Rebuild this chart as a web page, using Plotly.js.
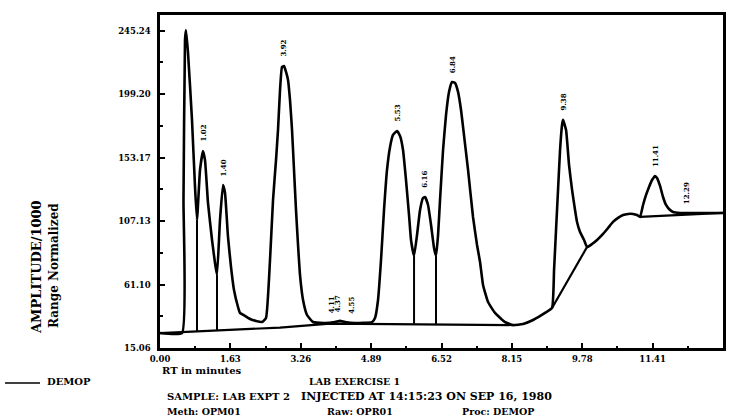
<!DOCTYPE html>
<html>
<head>
<meta charset="utf-8">
<script src="https://cdn.plot.ly/plotly-3.0.1.min.js"></script>
<style>html,body{margin:0;padding:0;background:#fff;}#chart{width:735px;height:418px;}</style>
</head>
<body>
<div id="chart"></div>
<script>
// Retention time (minutes) and normalized amplitude of the DEMOP trace
const rt = [
  0, 0.51, 0.544, 0.579, 0.602, 0.649, 0.741, 0.811, 0.857, 0.927,
  0.996, 1.042, 1.112, 1.205, 1.274, 1.320, 1.390, 1.459, 1.506, 1.575,
  1.645, 1.714, 1.807, 1.853, 1.969, 2.085, 2.224, 2.363, 2.455, 2.548,
  2.618, 2.687, 2.733, 2.780, 2.826, 2.872, 2.919, 2.965, 3.011, 3.058,
  3.104, 3.150, 3.197, 3.243, 3.313, 3.405, 3.544, 3.822, 4.054, 4.170,
  4.285, 4.517, 4.911, 4.980, 5.050, 5.119, 5.189, 5.258, 5.328, 5.397,
  5.490, 5.560, 5.629, 5.698, 5.768, 5.814, 5.884, 5.953, 6.023, 6.092,
  6.139, 6.208, 6.278, 6.347, 6.393, 6.440, 6.486, 6.556, 6.625, 6.694,
  6.764, 6.833, 6.903, 6.972, 7.019, 7.135, 7.250, 7.343, 7.413, 7.482,
  7.598, 7.760, 7.992, 8.177, 8.409, 8.640, 8.918, 9.080, 9.127, 9.173,
  9.219, 9.266, 9.312, 9.335, 9.405, 9.474, 9.544, 9.613, 9.659, 9.729,
  9.822, 9.891, 10.007, 10.123, 10.262, 10.378, 10.493, 10.609, 10.725, 10.841,
  10.957, 11.049, 11.119, 11.188, 11.258, 11.327, 11.397, 11.466, 11.512, 11.582,
  11.651, 11.721, 11.790, 11.883, 12.045, 12.509, 13.04
];
const amp = [
  25.9, 25.9, 122.4, 238.5, 245.7, 229.1, 180.5, 131.9, 107.9, 144.2,
  158.0, 151.4, 120.2, 93.4, 76.7, 68.0, 107.9, 133.3, 127.5, 95.6,
  73.8, 57.1, 44.8, 40.5, 38.3, 36.1, 34.7, 33.9, 36.8, 78.9,
  122.4, 151.4, 173.2, 202.2, 218.9, 219.6, 215.3, 209.5, 195.0, 173.2,
  144.2, 115.2, 89.8, 68.0, 49.9, 39.0, 33.9, 33.2, 33.9, 34.7,
  33.9, 33.2, 33.9, 36.8, 49.9, 78.9, 115.2, 144.2, 160.9, 169.6,
  172.5, 168.8, 158.7, 136.9, 111.5, 93.4, 81.8, 97.0, 115.2, 123.9,
  124.6, 118.8, 104.3, 87.6, 81.8, 97.0, 122.4, 158.7, 184.1, 200.8,
  208.0, 207.3, 200.8, 187.7, 175.4, 144.2, 110.1, 89.8, 77.4, 60.8,
  48.4, 40.5, 33.9, 31.7, 32.5, 35.4, 40.5, 44.1, 71.6, 100.7,
  129.7, 158.7, 176.8, 180.5, 173.2, 147.8, 129.7, 115.2, 106.5, 99.2,
  93.4, 88.3, 90.5, 93.4, 97.8, 102.1, 106.5, 109.4, 111.5, 112.3,
  112.3, 111.5, 110.1, 118.8, 126.1, 131.9, 136.9, 139.8, 138.4, 132.6,
  124.6, 118.8, 115.9, 113.7, 113.0, 113.0, 113.0
];

// Integration baselines (null separates the segments)
const baseRt  = [0, 2.78, 3.938, 7.413, 8.177, null, 9.080, 9.891, null, 11.119, 13.04];
const baseAmp = [25.9, 29.9, 32.8, 32.1, 31.7, null, 44.1, 88.3, null, 110.1, 113.0];

// Drop lines from valley to baseline
const dropRt   = [0.857, 1.320, 5.884, 6.393];
const dropTop  = [107.9, 68.0, 81.8, 81.8];
const dropBase = [27.1, 27.7, 32.6, 32.5];

// Peak labels (retention-time text) and the apex time they sit over
const peakLabels = ['1.02', '1.40', '3.92', '4.11', '4.37', '4.55', '5.53', '6.16', '6.84', '9.38', '11.41', '12.29'];
const peakRt     = [0.996, 1.459, 2.85, 3.98, 4.12, 4.43, 5.49, 6.12, 6.78, 9.335, 11.466, 12.21];

// Axis ticks
const xTickLabels = ['0.00', '1.63', '3.26', '4.89', '6.52', '8.15', '9.78', '11.41', '13.04'];
const yTickLabels = ['15.06', '61.10', '107.13', '153.17', '199.20', '245.24'];

const FONT = 'DejaVu Serif';
const xTickVals = xTickLabels.map(Number);
const yTickVals = yTickLabels.map(Number);
const xMinor = [];
for (let i = 0; i < xTickVals.length - 1; i++) xMinor.push((xTickVals[i] + xTickVals[i + 1]) / 2);
const yMinor = [];
for (let i = 0; i < yTickVals.length - 1; i++) yMinor.push((yTickVals[i] + yTickVals[i + 1]) / 2);

const dropX = [], dropY = [];
dropRt.forEach((t, i) => { dropX.push(t, t, null); dropY.push(dropBase[i], dropTop[i], null); });

function apexAmp(t) {
  let near = 0, bestD = Infinity, best = null;
  for (let i = 0; i < rt.length; i++) {
    const d = Math.abs(rt[i] - t);
    if (d < bestD) { bestD = d; near = i; }
    if (d <= 0.06 && (best === null || amp[i] > best)) best = amp[i];
  }
  return best === null ? amp[near] : best;
}

const traces = [
  {x: rt, y: amp, type: 'scatter', mode: 'lines', name: 'DEMOP',
   line: {color: '#000', width: 2.6, shape: 'spline', smoothing: 0.4}},
  {x: baseRt, y: baseAmp, type: 'scatter', mode: 'lines', line: {color: '#000', width: 2.2}, hoverinfo: 'skip'},
  {x: dropX, y: dropY, type: 'scatter', mode: 'lines', line: {color: '#000', width: 2}, hoverinfo: 'skip'}
];

const annotations = peakLabels.map((txt, i) => ({
  x: peakRt[i], y: apexAmp(peakRt[i]), xref: 'x', yref: 'y', text: txt,
  textangle: -90, showarrow: false, xanchor: 'center', yanchor: 'bottom', yshift: 7,
  font: {family: FONT, size: 7, weight: 'bold', color: '#000'}
}));

function px(p) { return (p - 160) / 563; }
function py(p) { return (348 - p) / 333; }
[
  {t: 'AMPLITUDE/1000', x: 36, y: 267, rot: -90, anchor: 'center', size: 13},
  {t: 'Range Normalized', x: 54, y: 266, rot: -90, anchor: 'center', size: 12},
  {t: 'RT in minutes', x: 160, y: 371, anchor: 'left', size: 10},
  {t: 'LAB EXERCISE 1', x: 307, y: 381, anchor: 'left', size: 9.5},
  {t: 'SAMPLE: LAB EXPT 2', x: 165, y: 396, anchor: 'left', size: 10},
  {t: 'INJECTED AT 14:15:23 ON SEP 16, 1980', x: 299, y: 396, anchor: 'left', size: 11},
  {t: 'Meth: OPM01', x: 165, y: 411, anchor: 'left', size: 9.5},
  {t: 'Raw: OPR01', x: 325, y: 411, anchor: 'left', size: 9.5},
  {t: 'Proc: DEMOP', x: 460, y: 411, anchor: 'left', size: 9.5},
  {t: 'DEMOP', x: 45, y: 381, anchor: 'left', size: 10}
].forEach(a => annotations.push({
  x: px(a.x), y: py(a.y), xref: 'paper', yref: 'paper', text: a.t, showarrow: false,
  textangle: a.rot || 0, xanchor: a.anchor, yanchor: 'middle',
  font: {family: FONT, size: a.size, weight: 'bold', color: '#000'}
}));

const layout = {
  width: 735, height: 418,
  margin: {l: 160, r: 12, t: 15, b: 70},
  paper_bgcolor: '#fff', plot_bgcolor: '#fff',
  font: {family: FONT, color: '#000', weight: 'bold'},
  showlegend: false,
  xaxis: {
    range: [0, 13.04], showgrid: false, zeroline: false, automargin: false,
    showline: true, linecolor: '#000', linewidth: 2.6, mirror: true,
    tickmode: 'array', tickvals: xTickVals, ticktext: xTickLabels,
    ticks: 'inside', ticklen: 5, tickwidth: 2, tickcolor: '#000',
    minor: {tickmode: 'array', tickvals: xMinor, ticks: 'inside', ticklen: 2.5, tickwidth: 2, tickcolor: '#000'},
    tickfont: {family: FONT, size: 8.5, weight: 'bold', color: '#000'},
    ticklabelstandoff: 1
  },
  yaxis: {
    range: [15.06, 256.6], showgrid: false, zeroline: false, automargin: false,
    showline: true, linecolor: '#000', linewidth: 2.6, mirror: true,
    tickmode: 'array', tickvals: yTickVals, ticktext: yTickLabels,
    ticks: 'inside', ticklen: 5, tickwidth: 2, tickcolor: '#000',
    minor: {tickmode: 'array', tickvals: yMinor, ticks: 'inside', ticklen: 3, tickwidth: 2, tickcolor: '#000'},
    tickfont: {family: FONT, size: 8.5, weight: 'bold', color: '#000'},
    ticklabelstandoff: 5
  },
  shapes: [
    {type: 'line', xref: 'paper', yref: 'paper', x0: px(5), x1: px(40), y0: py(383), y1: py(383),
     line: {color: '#000', width: 1.6}}
  ],
  annotations: annotations
};

Plotly.newPlot('chart', traces, layout, {displayModeBar: false, staticPlot: true});
</script>
</body>
</html>
